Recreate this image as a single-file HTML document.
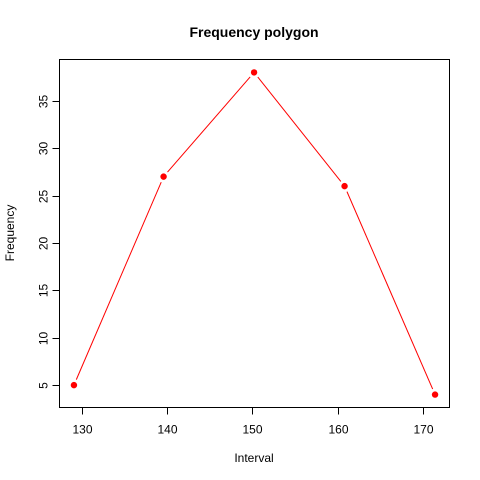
<!DOCTYPE html>
<html><head><meta charset="utf-8"><style>body{margin:0;background:#fff}svg{display:block}text{font-family:"Liberation Sans",Arial,sans-serif}</style></head>
<body>
<svg id="chart" width="480" height="480">
<rect x="0" y="0" width="480" height="480" fill="#fff"/>
<text x="254" y="37" text-anchor="middle" font-size="14" font-weight="bold">Frequency polygon</text>
<rect x="59.5" y="59.5" width="390" height="348" fill="none" stroke="#000"/>
<text x="254" y="462" text-anchor="middle" font-size="12">Interval</text>
<text transform="translate(14,233) rotate(-90)" text-anchor="middle" font-size="12">Frequency</text>
<g id="axes"></g><g id="marks"></g>
</svg>
<script>
const xValues=[129.1,139.6,150.2,160.8,171.4];
const frequencies=[5,27,38,26,4];
const xTicks=[130,140,150,160,170];
const yTicks=[5,10,15,20,25,30,35];
const L=59.5,R=449.5,T=59.5,B=407.5;
const xmin=Math.min(...xValues),xmax=Math.max(...xValues),ymin=Math.min(...frequencies),ymax=Math.max(...frequencies);
const xlo=xmin-0.04*(xmax-xmin),xhi=xmax+0.04*(xmax-xmin);
const ylo=ymin-0.04*(ymax-ymin),yhi=ymax+0.04*(ymax-ymin);
const sx=v=>L+(v-xlo)/(xhi-xlo)*(R-L);
const sy=v=>B-(v-ylo)/(yhi-ylo)*(B-T);
const NS='http://www.w3.org/2000/svg';
const axes=document.getElementById('axes'),marks=document.getElementById('marks');
function mk(tag,attrs,parent){const e=document.createElementNS(NS,tag);for(const k in attrs)e.setAttribute(k,attrs[k]);parent.appendChild(e);return e;}
xTicks.forEach(t=>{const x=Math.round(sx(t))+0.5;
 const l=mk('line',{x1:x,x2:x,y1:B,y2:B+7,stroke:'#000'},axes);
 
 
 const tx=mk('text',{x:x,y:B+26,'text-anchor':'middle','font-size':12},axes);tx.textContent=t;
 
 });
mk('line',{x1:Math.round(sx(xTicks[0]))+0.5,x2:Math.round(sx(xTicks[xTicks.length-1]))+0.5,y1:B,y2:B,stroke:'#000'},axes);
yTicks.forEach(t=>{const y=Math.round(sy(t))+0.5;
 const l=mk('line',{x1:L-7,x2:L,y1:y,y2:y,stroke:'#000'},axes);
 
 
 const tx=mk('text',{transform:`translate(${L-12},${y}) rotate(-90)`,'text-anchor':'middle','font-size':12},axes);tx.textContent=t;
 
 });
mk('line',{x1:L,x2:L,y1:Math.round(sy(yTicks[0]))+0.5,y2:Math.round(sy(yTicks[yTicks.length-1]))+0.5,stroke:'#000'},axes);
for(let i=0;i<xValues.length-1;i++){
 const x1=sx(xValues[i]),y1=sy(frequencies[i]),x2=sx(xValues[i+1]),y2=sy(frequencies[i+1]);
 const d=Math.hypot(x2-x1,y2-y1),g=6/d;
 const s=mk('line',{x1:x1+(x2-x1)*g,y1:y1+(y2-y1)*g,x2:x2-(x2-x1)*g,y2:y2-(y2-y1)*g,stroke:'#f00','stroke-width':1},marks);
 
 }
xValues.forEach((v,i)=>{const c=mk('circle',{cx:sx(v),cy:sy(frequencies[i]),r:3.2,fill:'#f00'},marks);
 
 });
</script>
</body></html>
